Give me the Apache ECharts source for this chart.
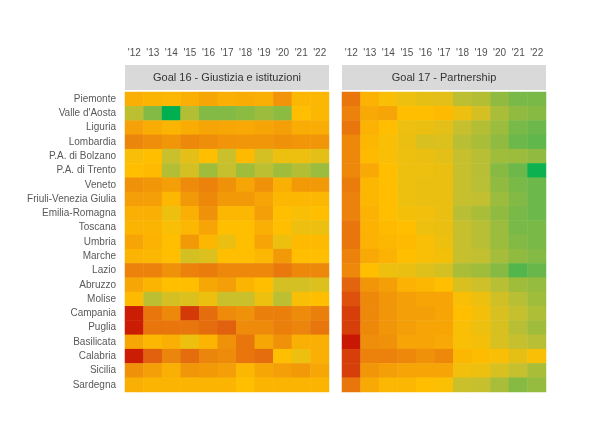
<!DOCTYPE html>
<html>
<head>
<meta charset="utf-8">
<script src="https://cdn.jsdelivr.net/npm/echarts@6/dist/echarts.min.js"></script>
<style>
  html, body { margin: 0; padding: 0; background: #fff; }
  #chart { width: 603px; height: 424px; }
</style>
</head>
<body>
<div id="chart"></div>
<script>
// anni (colonne)
const years = ["'12", "'13", "'14", "'15", "'16", "'17", "'18", "'19", "'20", "'21", "'22"];

// regioni (righe)
const regions = [
    'Piemonte', "Valle d'Aosta", 'Liguria', 'Lombardia', 'P.A. di Bolzano', 'P.A. di Trento',
    'Veneto', 'Friuli-Venezia Giulia', 'Emilia-Romagna', 'Toscana', 'Umbria', 'Marche',
    'Lazio', 'Abruzzo', 'Molise', 'Campania', 'Puglia', 'Basilicata', 'Calabria', 'Sicilia', 'Sardegna'
];

const panelTitles = ['Goal 16 - Giustizia e istituzioni', 'Goal 17 - Partnership'];

// indice composito (0 = peggiore, 100 = migliore)
const goal16 = [
    [44, 46, 47, 44, 41, 44, 43, 44, 34, 47, 47],
    [68, 80, 100, 70, 80, 80, 78, 75, 78, 50, 47],
    [39, 43, 46, 43, 40, 41, 42, 40, 38, 43, 43],
    [29, 32, 35, 30, 32, 34, 35, 35, 33, 35, 35],
    [52, 50, 65, 58, 50, 65, 48, 62, 55, 55, 58],
    [50, 48, 70, 62, 74, 66, 74, 68, 74, 70, 75],
    [33, 35, 38, 31, 28, 33, 40, 33, 44, 36, 36],
    [38, 38, 47, 36, 30, 36, 36, 40, 47, 47, 47],
    [44, 44, 55, 44, 33, 47, 47, 38, 50, 52, 50],
    [46, 46, 52, 47, 40, 50, 50, 44, 50, 55, 55],
    [40, 45, 50, 36, 47, 56, 50, 40, 55, 48, 48],
    [46, 47, 50, 62, 60, 50, 50, 47, 36, 50, 50],
    [28, 28, 33, 28, 26, 30, 30, 30, 25, 30, 30],
    [41, 46, 50, 50, 41, 38, 46, 50, 62, 62, 60],
    [48, 68, 62, 60, 55, 65, 65, 55, 68, 52, 50],
    [5, 24, 30, 10, 21, 31, 33, 27, 27, 31, 27],
    [5, 24, 24, 24, 21, 17, 31, 31, 27, 29, 24],
    [41, 47, 44, 55, 46, 33, 24, 41, 33, 44, 44],
    [5, 17, 29, 21, 29, 31, 24, 21, 50, 55, 44],
    [33, 38, 44, 35, 36, 38, 47, 41, 38, 36, 41],
    [44, 46, 46, 46, 46, 46, 50, 46, 46, 46, 46]
];

const goal17 = [
    [24, 45, 52, 55, 57, 58, 68, 70, 77, 82, 82],
    [28, 42, 40, 50, 50, 48, 55, 62, 72, 77, 79],
    [24, 45, 50, 55, 56, 58, 66, 70, 75, 82, 84],
    [30, 47, 52, 56, 61, 60, 69, 72, 77, 84, 86],
    [30, 48, 52, 55, 56, 58, 66, 69, 74, 75, 77],
    [30, 42, 50, 55, 55, 56, 66, 69, 79, 84, 98],
    [26, 47, 50, 55, 56, 56, 66, 69, 77, 82, 84],
    [28, 47, 50, 55, 56, 56, 66, 67, 75, 80, 84],
    [28, 45, 50, 53, 54, 56, 69, 72, 77, 82, 84],
    [24, 45, 48, 50, 55, 56, 66, 69, 75, 82, 82],
    [24, 45, 47, 48, 52, 55, 66, 69, 75, 80, 82],
    [28, 42, 45, 50, 52, 53, 66, 67, 73, 77, 80],
    [30, 50, 55, 56, 59, 62, 72, 74, 79, 88, 85],
    [18, 35, 38, 45, 47, 50, 61, 64, 69, 74, 76],
    [14, 30, 35, 38, 40, 40, 52, 55, 63, 69, 74],
    [11, 30, 35, 38, 38, 40, 50, 53, 61, 66, 71],
    [11, 30, 35, 38, 40, 40, 52, 55, 61, 69, 74],
    [4, 32, 33, 40, 40, 42, 52, 53, 61, 66, 69],
    [11, 28, 28, 30, 33, 30, 47, 49, 52, 57, 52],
    [11, 35, 38, 40, 40, 40, 54, 55, 61, 66, 72],
    [24, 42, 47, 47, 50, 51, 65, 66, 72, 79, 76]
];

const toCells = rows => {
    const out = [];
    rows.forEach((row, r) => row.forEach((v, c) => out.push([c, r, v])));
    return out;
};

const chart = echarts.init(document.getElementById('chart'), null, { renderer: 'canvas' });

const grids = [
    { left: 125, top: 92, width: 204, height: 300 },
    { left: 342, top: 92, width: 204, height: 300 }
];

const textFont = 'Liberation Sans, Arial, sans-serif';

const option = {
    backgroundColor: '#fff',
    animation: false,
    grid: grids,
    xAxis: grids.map((g, i) => ({
        type: 'category',
        gridIndex: i,
        data: years,
        position: 'top',
        offset: 26,
        axisLine: { show: false },
        axisTick: { show: false },
        splitLine: { show: false },
        axisLabel: { color: '#505050', fontSize: 10, fontFamily: textFont, margin: 8, interval: 0 }
    })),
    yAxis: grids.map((g, i) => ({
        type: 'category',
        gridIndex: i,
        data: regions,
        inverse: true,
        axisLine: { show: false },
        axisTick: { show: false },
        splitLine: { show: false },
        axisLabel: { show: i === 0, color: '#595959', fontSize: 10, fontFamily: textFont, margin: 9, interval: 0 }
    })),
    visualMap: {
        show: false,
        type: 'continuous',
        min: 0,
        max: 100,
        seriesIndex: [0, 1],
        inRange: {
            color: ['#c00000', '#e2600e', '#f0920a', '#ffbf00', '#c4c030', '#72b84a', '#00b050']
        }
    },
    graphic: grids.map((g, i) => ({
        type: 'group',
        left: g.left,
        top: 65,
        children: [
            {
                type: 'rect',
                shape: { x: 0, y: 0, width: g.width, height: 25 },
                style: { fill: '#d9d9d9' }
            },
            {
                type: 'text',
                x: g.width / 2,
                y: 12.5,
                style: {
                    text: panelTitles[i],
                    fill: '#333333',
                    fontSize: 11,
                    fontFamily: textFont,
                    align: 'center',
                    verticalAlign: 'middle'
                }
            }
        ]
    })),
    series: [goal16, goal17].map((rows, i) => ({
        type: 'heatmap',
        xAxisIndex: i,
        yAxisIndex: i,
        data: toCells(rows),
        itemStyle: { borderWidth: 0 },
        emphasis: { disabled: true }
    }))
};

chart.setOption(option);
</script>
</body>
</html>
